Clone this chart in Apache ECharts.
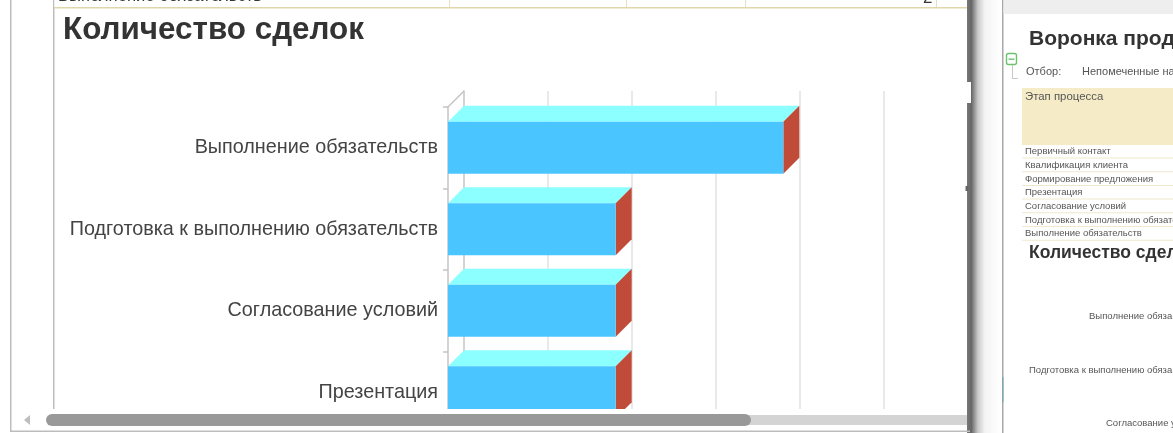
<!DOCTYPE html>
<html>
<head>
<meta charset="utf-8">
<style>
html,body{margin:0;padding:0;background:#fff;}
#main{width:1173px;height:433px;}
</style>
<script src="https://cdn.jsdelivr.net/npm/echarts@6/dist/echarts.min.js"></script>
</head>
<body>
<div id="main"></div>
<script>
// данные диаграммы
var categories = ['Выполнение обязательств', 'Подготовка к выполнению обязательств', 'Согласование условий', 'Презентация'];
var dealCounts = [4, 2, 2, 2];
var axisMax = 6;

// соседнее окно справа
var stageRows = ['Первичный контакт', 'Квалификация клиента', 'Формирование предложения', 'Презентация', 'Согласование условий', 'Подготовка к выполнению обязательств', 'Выполнение обязательств'];
var rowCellLines = [449, 626, 745, 936];

var FONT = '"Liberation Sans", Arial, sans-serif';
var DEPTH = 16;
var BAR_SHARE = 0.64;

function rect(x, y, w, h, fill, z) {
    return {type: 'rect', z: z || 100, silent: true, shape: {x: x, y: y, width: w, height: h}, style: {fill: fill}};
}
function label(text, x, y, size, color, weight) {
    return {type: 'text', z: 101, silent: true, x: x, y: y, style: {
        text: text, fill: color, font: (weight || 'normal') + ' ' + size + 'px ' + FONT, textVerticalAlign: 'middle'
    }};
}

// столбик с объемом: передняя грань, верх, бок
function renderBar(params, api) {
    var end = api.coord([api.value(0), api.value(1)]);
    var start = api.coord([0, api.value(1)]);
    var half = api.size([0, 1])[1] * BAR_SHARE / 2;
    var y0 = end[1] - half, y1 = end[1] + half;
    return {type: 'group', children: [
        {type: 'polygon', shape: {points: [[start[0], y0], [end[0], y0], [end[0] + DEPTH, y0 - DEPTH], [start[0] + DEPTH, y0 - DEPTH]]}, style: {fill: '#8CFFFF'}},
        {type: 'polygon', shape: {points: [[end[0], y0], [end[0] + DEPTH, y0 - DEPTH], [end[0] + DEPTH, y1 - DEPTH], [end[0], y1]]}, style: {fill: '#BF4B38'}},
        {type: 'rect', shape: {x: start[0], y: y0, width: end[0] - start[0], height: y1 - y0}, style: {fill: '#4BC5FF'}}
    ]};
}

// диагональ от передней оси к задней стенке
function renderCorner(params, api) {
    var p = api.coord([0, 0]);
    var top = p[1] - api.size([0, 1])[1] / 2;
    return {type: 'line', shape: {x1: p[0], y1: top, x2: p[0] + DEPTH, y2: top - DEPTH}, style: {stroke: '#c4c4c4', lineWidth: 1.5}};
}

var chrome = [
    // левое окно
    rect(10, 0, 1.5, 432, '#bdbdbd'),
    rect(53, 0, 1.5, 409, '#bdbdbd'),
    rect(54.5, 409, 914, 24, '#ffffff'),
    rect(10, 430.5, 960, 1.5, '#bdbdbd', 101),
    rect(54.5, 0, 914, 7, '#ffffff'),
    label('Выполнение обязательств', 58, -4, 16.6, '#333333'),
    label('2', 923, -2, 17, '#333333'),
    rect(54, 7, 914, 1.5, '#DFD7AC'),
    // полоса прокрутки
    rect(745, 415, 225, 10, '#d4d4d4'),
    {type: 'rect', z: 101, silent: true, shape: {x: 46, y: 414, width: 705, height: 12, r: 6}, style: {fill: '#999999'}},
    {type: 'polygon', z: 101, silent: true, shape: {points: [[30, 415], [30, 425], [24, 420]]}, style: {fill: '#bdbdbd'}},
    // разделитель окон
    {type: 'rect', z: 100, silent: true, shape: {x: 967, y: 0, width: 36, height: 433}, style: {fill: new echarts.graphic.LinearGradient(0, 0, 1, 0, [
        {offset: 0, color: '#777777'}, {offset: 0.12, color: '#666666'}, {offset: 0.3, color: '#c8c8c8'},
        {offset: 0.5, color: '#f4f4f4'}, {offset: 0.95, color: '#ffffff'}, {offset: 1, color: '#ffffff'}
    ])}},
    rect(967, 82, 4, 21, '#ffffff', 101),
    rect(965.5, 186, 3, 5, '#666666', 101),
    rect(1002, 0, 1.5, 433, '#a8a8a8'),
    rect(1002, 377, 1.5, 25, '#7fa9b0', 101),
    rect(1003.5, 0, 170, 14, '#eeeeee'),
    // правое окно
    label('Воронка прод', 1029, 39, 21, '#333333', 'bold'),
    label('Отбор:', 1026, 71.5, 11, '#555555'),
    label('Непомеченные на', 1082, 71.5, 11, '#555555'),
    rect(1022, 88, 151, 57, '#F5EBC7'),
    label('Этап процесса', 1025, 97, 11.4, '#555555'),
    label('Количество сдел', 1029, 253, 17.5, '#333333', 'bold'),
    label('Выполнение обяза', 1089, 316, 9.5, '#555555'),
    label('Подготовка к выполнению обяза', 1029, 370, 9.5, '#555555'),
    label('Согласование у', 1106, 423, 9.5, '#555555'),
    // значок группировки
    {type: 'rect', z: 101, silent: true, shape: {x: 1006.5, y: 53.5, width: 10, height: 11, r: 2}, style: {fill: '#ffffff', stroke: '#6CC36C', lineWidth: 1.4}},
    rect(1008.5, 58.5, 6, 1.4, '#6CC36C', 102),
    rect(1012, 65, 1, 13, '#c8c8c8'),
    rect(1012, 78, 6, 1, '#c8c8c8')
];
for (var c = 0; c < rowCellLines.length; c++) {
    chrome.push(rect(rowCellLines[c], 0, 1, 7, '#E6DFBC'));
}
for (var r = 0; r < stageRows.length; r++) {
    chrome.push(label(stageRows[r], 1025, 151.5 + r * 13.7, 9.5, '#555555'));
    chrome.push(rect(1022, 157.5 + r * 13.7, 151, 1, '#EFE8CC'));
}

var barData = [];
for (var i = 0; i < dealCounts.length; i++) {
    barData.push([dealCounts[i], i]);
}

var option = {
    backgroundColor: '#ffffff',
    animation: false,
    title: {
        text: 'Количество сделок',
        left: 58,
        top: 10,
        textStyle: {fontFamily: FONT, fontSize: 31.4, fontWeight: 'bold', color: '#333333'}
    },
    grid: [
        {left: 448, top: 107, width: 503, height: 326},
        {left: 463.5, top: 91, width: 504, height: 342}
    ],
    xAxis: [
        {gridIndex: 0, type: 'value', min: 0, max: axisMax, interval: 1, axisLabel: {show: false}, axisLine: {show: false}, axisTick: {show: false}, splitLine: {show: false}},
        {gridIndex: 1, type: 'value', min: 0, max: axisMax, interval: 1, axisLabel: {show: false}, axisLine: {show: false}, axisTick: {show: false},
            splitLine: {show: true, showMinLine: false, lineStyle: {color: '#e2e2e2', width: 1.5}}}
    ],
    yAxis: [
        {gridIndex: 0, type: 'category', inverse: true, data: categories,
            axisLine: {show: true, lineStyle: {color: '#c4c4c4', width: 1.5}},
            axisTick: {show: true, length: 5, lineStyle: {color: '#c4c4c4', width: 1.5}},
            axisLabel: {margin: 10, fontFamily: FONT, fontSize: 19.8, color: '#444444', padding: [0, 0, 6, 0]}},
        {gridIndex: 1, type: 'value', min: 0, max: 1, axisLabel: {show: false}, axisTick: {show: false}, splitLine: {show: false},
            axisLine: {show: true, lineStyle: {color: '#c4c4c4', width: 1.5}}}
    ],
    series: [
        {type: 'custom', name: 'Количество сделок', xAxisIndex: 0, yAxisIndex: 0, renderItem: renderBar, data: barData, encode: {x: 0, y: 1}, z: 5},
        {type: 'custom', name: 'Угол', xAxisIndex: 0, yAxisIndex: 0, renderItem: renderCorner, data: [[0, 0]], encode: {x: 0, y: 1}, z: 4}
    ],
    graphic: {elements: chrome}
};

var myChart = echarts.init(document.getElementById('main'));
myChart.setOption(option);
</script>
</body>
</html>
